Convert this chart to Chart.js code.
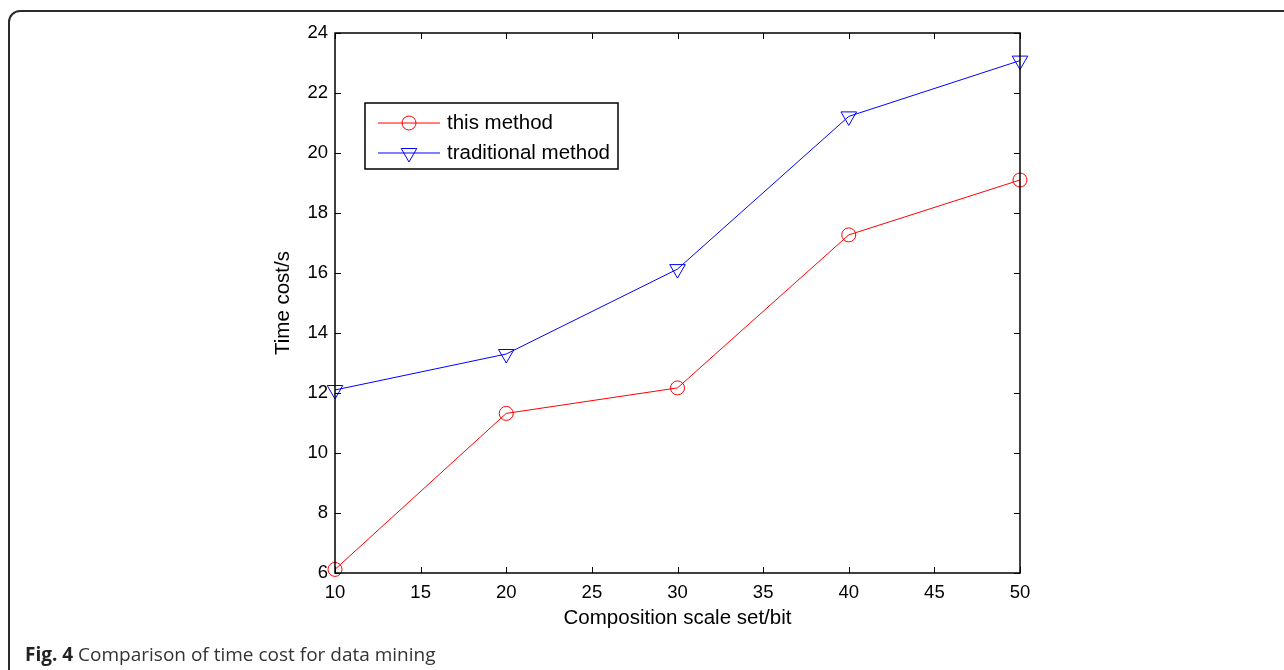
<!DOCTYPE html>
<html lang="en">
<head>
    <meta charset="UTF-8">
    <title>Comparison of time cost for data mining</title>
    <script src="https://cdn.jsdelivr.net/npm/chart.js"></script>
    <style>
        body {
            margin: 0;
            width: 1284px;
            height: 670px;
            overflow: hidden;
            background: #fff;
            position: relative;
        }
        .frame {
            position: absolute;
            left: 8px;
            top: 10px;
            width: 1320px;
            height: 720px;
            border: 2px solid #2b2b2b;
            border-radius: 12px;
        }
        #wrap {
            position: absolute;
            left: 0;
            top: 0;
            width: 1284px;
            height: 670px;
        }
        .caption {
            position: absolute;
            left: 25px;
            top: 641px;
            font-family: "Open Sans", sans-serif;
            font-size: 19px;
            color: #333;
            white-space: nowrap;
        }
        .caption b { color: #222; }
    </style>
</head>
<body>
    <div class="frame"></div>
    <div id="wrap"><canvas id="timeChart"></canvas></div>
    <div class="caption"><b>Fig. 4</b> Comparison of time cost for data mining</div>

    <script>
        // values
        const scaleSet = [10, 20, 30, 40, 50];
        const thisMethod = [6.12, 11.32, 12.17, 17.27, 19.1];
        const traditionalMethod = [12.1, 13.3, 16.13, 21.22, 23.08];
        const xTicks = [10, 15, 20, 25, 30, 35, 40, 45, 50];
        const yTicks = [6, 8, 10, 12, 14, 16, 18, 20, 22, 24];

        const fontFamily = "'Liberation Sans', Arial, sans-serif";
        const tickFont = { family: fontFamily, size: 18.5 };
        const titleFont = { family: fontFamily, size: 20.5 };

        // matlab style box with inward ticks + legend inside the plot
        const boxPlugin = {
            id: 'box',
            afterDraw(chart) {
                const ctx = chart.ctx;
                const a = chart.chartArea;
                const xs = chart.scales.x, ys = chart.scales.y;
                ctx.save();
                ctx.strokeStyle = '#000';
                ctx.lineWidth = 1.5;
                ctx.strokeRect(a.left, a.top, a.right - a.left, a.bottom - a.top);
                ctx.lineWidth = 1;
                ctx.beginPath();
                xs.ticks.forEach(t => {
                    const px = Math.round(xs.getPixelForValue(t.value)) + 0.5;
                    ctx.moveTo(px, a.bottom); ctx.lineTo(px, a.bottom - 6);
                    ctx.moveTo(px, a.top); ctx.lineTo(px, a.top + 6);
                });
                ys.ticks.forEach(t => {
                    const py = Math.round(ys.getPixelForValue(t.value)) + 0.5;
                    ctx.moveTo(a.left, py); ctx.lineTo(a.left + 6, py);
                    ctx.moveTo(a.right, py); ctx.lineTo(a.right - 6, py);
                });
                ctx.stroke();

                // legend
                const lx = 365, ly = 103, lw = 253, lh = 66;
                ctx.fillStyle = '#fff';
                ctx.fillRect(lx, ly, lw, lh);
                ctx.lineWidth = 1.5;
                ctx.strokeStyle = '#000';
                ctx.strokeRect(lx, ly, lw, lh);
                chart.data.datasets.forEach((ds, i) => {
                    const cy = ly + 20 + i * 30;
                    ctx.strokeStyle = ds.borderColor;
                    ctx.lineWidth = 1;
                    ctx.beginPath();
                    ctx.moveTo(378, cy); ctx.lineTo(440, cy);
                    ctx.stroke();
                    ctx.fillStyle = 'rgba(0,0,0,0)';
                    Chart.helpers.drawPoint(ctx, {
                        pointStyle: ds.pointStyle, radius: ds.pointRadius,
                        rotation: ds.pointRotation, borderWidth: 1
                    }, 409, cy);
                    ctx.fillStyle = '#000';
                    ctx.font = "20.5px " + fontFamily;
                    ctx.textBaseline = 'middle';
                    ctx.fillText(ds.label, 447, cy);
                });
                ctx.restore();
            }
        };

        const ctx = document.getElementById('timeChart').getContext('2d');
        new Chart(ctx, {
            type: 'line',
            data: {
                labels: scaleSet,
                datasets: [{
                    label: 'this method',
                    data: scaleSet.map((x, i) => ({ x: x, y: thisMethod[i] })),
                    borderColor: '#ff0000',
                    backgroundColor: 'rgba(0,0,0,0)',
                    borderWidth: 1,
                    pointStyle: 'circle',
                    pointRadius: 7,
                    pointRotation: 0,
                    pointBorderWidth: 1,
                    tension: 0
                }, {
                    label: 'traditional method',
                    data: scaleSet.map((x, i) => ({ x: x, y: traditionalMethod[i] })),
                    borderColor: '#0000ff',
                    backgroundColor: 'rgba(0,0,0,0)',
                    borderWidth: 1,
                    pointStyle: 'triangle',
                    pointRadius: 9,
                    pointRotation: 180,
                    pointBorderWidth: 1,
                    tension: 0
                }]
            },
            options: {
                responsive: true,
                maintainAspectRatio: false,
                animation: false,
                clip: false,
                layout: { padding: { left: 0, top: 33, right: 264, bottom: 0 } },
                plugins: {
                    legend: { display: false },
                    tooltip: { enabled: false }
                },
                scales: {
                    x: {
                        type: 'linear',
                        min: 10, max: 50,
                        afterBuildTicks: s => { s.ticks = xTicks.map(v => ({ value: v })); },
                        afterFit: s => { s.height = 97; },
                        grid: { display: false, drawTicks: false },
                        border: { display: false },
                        ticks: { color: '#000', font: tickFont, padding: 9, maxRotation: 0 },
                        title: {
                            display: true, text: 'Composition scale set/bit', color: '#000',
                            font: titleFont, padding: { top: 0, bottom: 39.7 }
                        }
                    },
                    y: {
                        min: 6, max: 24,
                        afterBuildTicks: s => { s.ticks = yTicks.map(v => ({ value: v })); },
                        afterFit: s => { s.width = 335; },
                        grid: { display: false, drawTicks: false },
                        border: { display: false },
                        ticks: { color: '#000', font: tickFont, padding: 7 },
                        title: {
                            display: true, text: 'Time cost/s', color: '#000',
                            font: titleFont, padding: { top: 270.7, bottom: 0 }
                        }
                    }
                }
            },
            plugins: [boxPlugin]
        });
    </script>
</body>
</html>
